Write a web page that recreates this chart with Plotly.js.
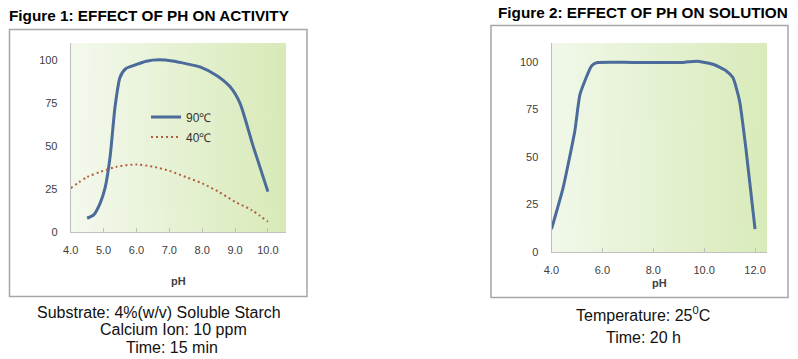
<!DOCTYPE html>
<html><head><meta charset="utf-8">
<script src="https://cdn.plot.ly/plotly-3.0.1.min.js"></script>
<style>body{margin:0;background:#fff}#chart{width:798px;height:359px}</style>
</head><body><div id="chart"></div>
<script>
// Figure 1: activity vs pH
const ph90  = [4.5, 4.7, 4.9, 5.05, 5.2, 5.35, 5.5, 5.67, 6.0, 6.3, 6.7, 7.1, 7.5, 7.95, 8.45, 8.85, 9.15, 9.55, 10.0];
const act90 = [8, 10, 17, 26, 44, 73, 90, 95, 97.5, 99.4, 100.2, 99.5, 98, 96, 91, 84.5, 75, 50, 23.5];
const ph40  = [4.0, 4.5, 4.9, 5.4, 6.0, 6.5, 7.0, 7.5, 8.0, 8.5, 9.0, 9.5, 10.0];
const act40 = [25.5, 32, 35, 38, 39.3, 38, 35.6, 32, 28.3, 23.4, 17.6, 12.8, 6];
// Figure 2: solution stability vs pH
const phSol = [4.0, 4.46, 4.92, 5.12, 5.58, 5.8, 7.2, 9.2, 9.7, 10.35, 10.87, 11.13, 11.39, 11.65, 12.0];
const sol   = [12, 34, 64, 83, 98, 99.7, 99.8, 99.8, 100.4, 98.8, 95.3, 91.8, 79.6, 53.4, 12];
const xTicks1 = [4, 5, 6, 7, 8, 9, 10];
const xTicks2 = [4, 6, 8, 10, 12];
const yTicks  = [0, 25, 50, 75, 100];
const names = ['90℃', '40℃'];
const titles = ['Figure 1: EFFECT OF PH ON ACTIVITY', 'Figure 2: EFFECT OF PH ON SOLUTION'];
const captions1 = ['Substrate: 4%(w/v) Soluble Starch', 'Calcium Ion: 10 ppm', 'Time: 15 min'];
const captions2 = ['Temperature: 25<sup>0</sup>C', 'Time: 20 h'];

function grad(c0, c1) {
  const cv = document.createElement('canvas'); cv.width = 256; cv.height = 4;
  const g = cv.getContext('2d');
  const lg = g.createLinearGradient(0, 0, 256, 0);
  lg.addColorStop(0, c0); lg.addColorStop(1, c1);
  g.fillStyle = lg; g.fillRect(0, 0, 256, 4);
  return cv.toDataURL();
}
const W = 798, H = 359;
const px = v => v / W, py = v => 1 - v / H;

const blue = '#4b6b9b', brown = '#b35f3f';
const traces = [
  {x: ph90, y: act90, xaxis: 'x', yaxis: 'y', mode: 'lines', name: names[0], legend: 'legend',
   line: {color: blue, width: 3, shape: 'spline', smoothing: 0.6}},
  {x: ph40, y: act40, xaxis: 'x', yaxis: 'y', mode: 'lines', name: names[1], legend: 'legend2',
   line: {color: brown, width: 2, dash: '2px,3px', shape: 'spline', smoothing: 0.8}},
  {x: phSol, y: sol, xaxis: 'x2', yaxis: 'y2', mode: 'lines', showlegend: false,
   line: {color: blue, width: 3, shape: 'spline', smoothing: 0.5}}
];

const tickFont = {family: 'Liberation Sans, Arial, sans-serif', size: 11, color: '#404040'};
const axX = (dom, range, vals, standoff, anchor) => ({
  domain: dom, range: range, tickvals: vals, ticktext: vals.map(v => v.toFixed(1)), anchor: anchor,
  showline: true, linecolor: '#bfbfbf', linewidth: 1, ticks: 'inside', ticklen: 4, tickcolor: '#bfbfbf',
  showgrid: false, zeroline: false, tickfont: tickFont, ticklabelstandoff: 8, fixedrange: true,
  title: {text: '<b>pH</b>', font: {family: 'Liberation Sans, Arial, sans-serif', size: 11, color: '#404040'}, standoff: standoff}
});
const axY = (dom, anchor) => ({
  domain: dom, range: [0, 110], tickvals: yTicks, showline: true, linecolor: '#bfbfbf', linewidth: 1,
  ticks: '', showgrid: false, zeroline: false, tickfont: tickFont, ticklabelstandoff: 10, anchor: anchor, fixedrange: true
});

const capFont = {family: 'Liberation Sans, Arial, sans-serif', size: 16, color: '#111'};
const titleFont = {family: 'Liberation Sans, Arial, sans-serif', size: 15.3, color: '#000'};
const ann = [
  {text: '<b>' + titles[0] + '</b>', x: px(7), y: py(15), xanchor: 'left', font: titleFont},
  {text: '<b>' + titles[1] + '</b>', x: px(496), y: py(12), xanchor: 'left', font: titleFont},
  {text: captions1[0], x: px(159), y: py(312), font: capFont},
  {text: captions1[1], x: px(173), y: py(329.5), font: capFont},
  {text: captions1[2], x: px(172), y: py(347), font: capFont},
  {text: captions2[0], x: px(643), y: py(314), font: capFont},
  {text: captions2[1], x: px(643), y: py(337), font: capFont}
].map(a => Object.assign({xref: 'paper', yref: 'paper', showarrow: false, yanchor: 'middle', xanchor: 'center'}, a));

const legFont = {family: 'Liberation Sans, Arial, sans-serif', size: 12, color: '#333'};
const layout = {
  width: W, height: H, margin: {l: 0, r: 0, t: 0, b: 0},
  paper_bgcolor: '#ffffff', plot_bgcolor: 'rgba(0,0,0,0)',
  xaxis: axX([px(70.7), px(286)], [4, 10.55], xTicks1, 22, 'y'),
  yaxis: axY([1 - 232 / H, 1 - 43 / H], 'x'),
  xaxis2: axX([px(551.5), px(767)], [4, 12.47], xTicks2, 4, 'y2'),
  yaxis2: axY([1 - 252 / H, 1 - 43 / H], 'x2'),
  legend: {x: px(146), y: py(117), xanchor: 'left', yanchor: 'middle', bgcolor: 'rgba(0,0,0,0)', font: legFont},
  legend2: {x: px(146), y: py(137), xanchor: 'left', yanchor: 'middle', bgcolor: 'rgba(0,0,0,0)', font: legFont},
  images: [
    {source: grad('#f4f9ee', '#d8eab8'), xref: 'x domain', yref: 'y domain', x: 0, y: 1, sizex: 1, sizey: 1,
     sizing: 'stretch', xanchor: 'left', yanchor: 'top', layer: 'below'},
    {source: grad('#f1f8ea', '#d9ebba'), xref: 'x2 domain', yref: 'y2 domain', x: 0, y: 1, sizex: 1, sizey: 1,
     sizing: 'stretch', xanchor: 'left', yanchor: 'top', layer: 'below'}
  ],
  shapes: [
    {type: 'rect', xref: 'paper', yref: 'paper', x0: px(9.5), x1: px(307), y0: py(296.5), y1: py(29.5),
     line: {color: '#a6a6a6', width: 1.5}},
    {type: 'rect', xref: 'paper', yref: 'paper', x0: px(491), x1: px(788), y0: py(297.5), y1: py(25.5),
     line: {color: '#a6a6a6', width: 1.5}}
  ],
  annotations: ann,
  showlegend: true
};
Plotly.newPlot('chart', traces, layout, {displayModeBar: false, staticPlot: true});
</script></body></html>
